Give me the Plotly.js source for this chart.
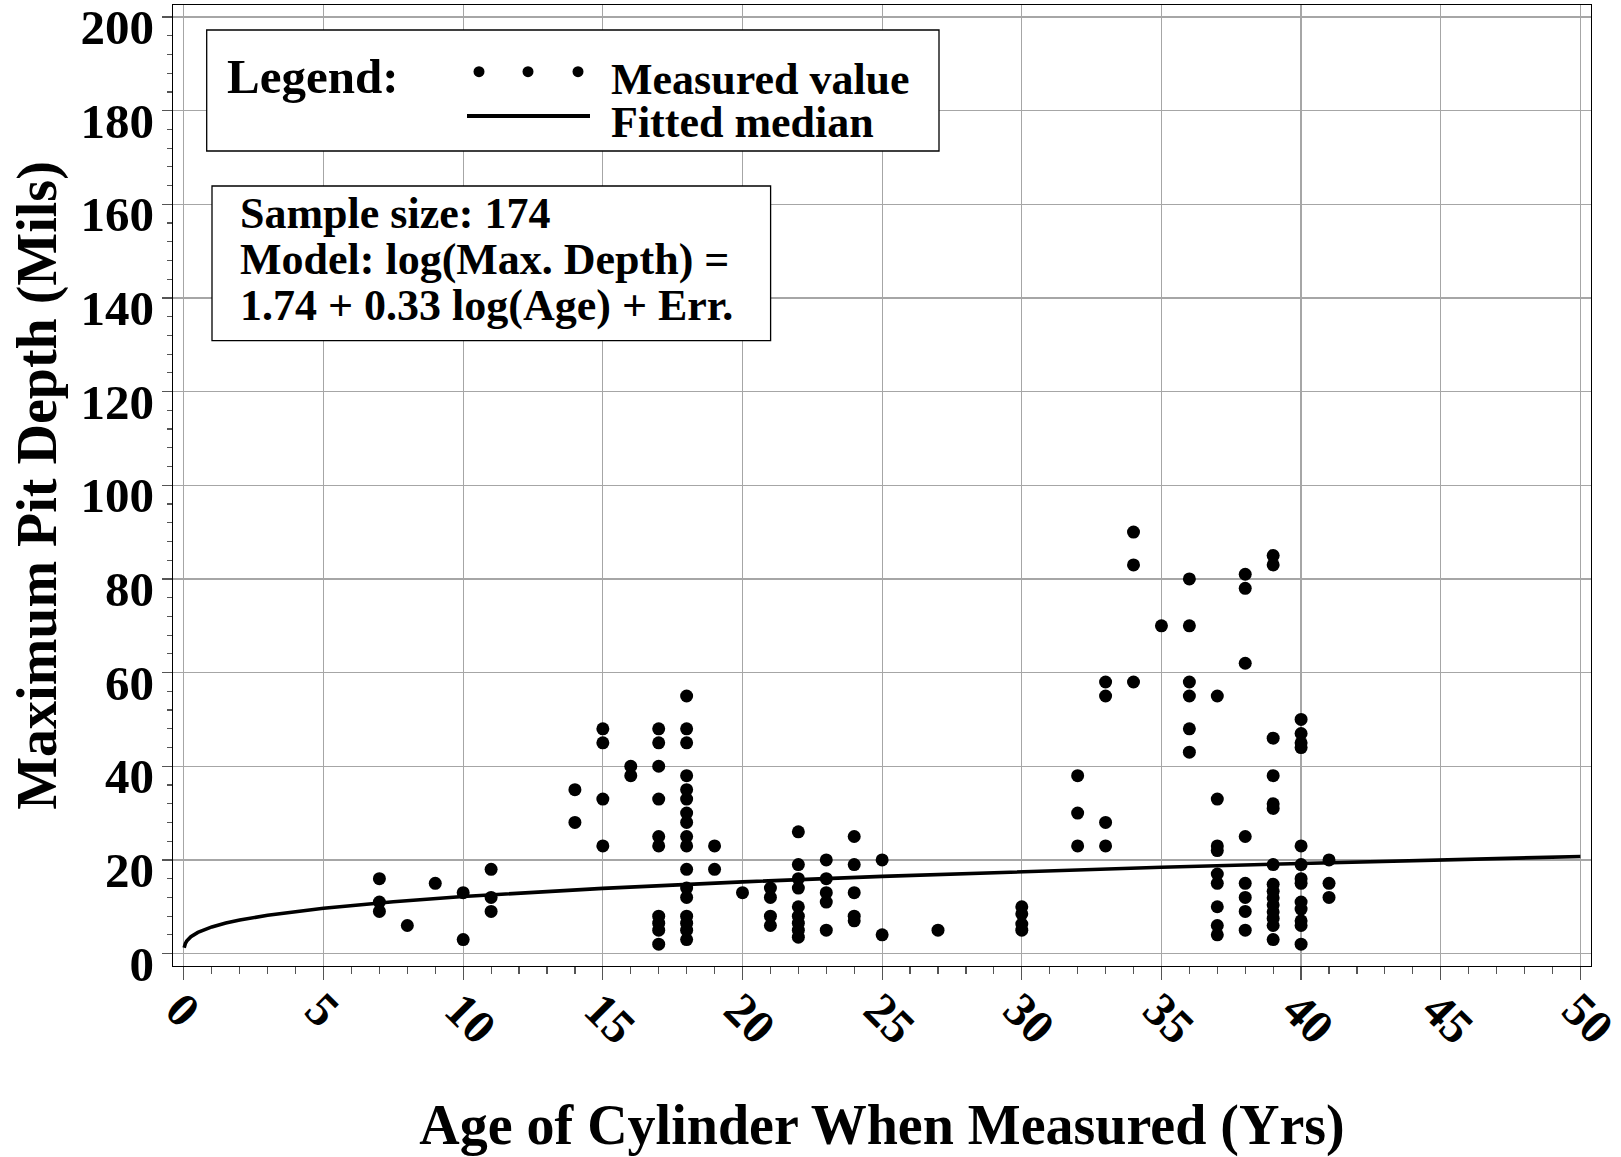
<!DOCTYPE html>
<html>
<head>
<meta charset="utf-8">
<script src="https://cdn.plot.ly/plotly-3.0.1.min.js"></script>
<style>
html,body{margin:0;padding:0;background:#fff;}
#chart{width:1621px;height:1157px;}
</style>
</head>
<body>
<div id="chart"></div>
<script>
// ---- Data ----
const measuredAge = [
  7,7,7, 8, 9, 10,10, 11,11,11, 14,14, 15,15,15,15, 16,16,
  17,17,17,17,17,17,17,17,17,17,
  18,18,18,18,18,18,18,18,18,18,18,18,18,18,18,18,18,
  19,19, 20, 21,21,21,21, 22,22,22,22,22,22,22,22,22,
  23,23,23,23,23, 24,24,24,24,24, 25,25, 27, 30,30,30,30,
  32,32,32, 33,33,33,33, 34,34,34, 35, 36,36,36,36,36,36,
  37,37,37,37,37,37,37,37,37,
  38,38,38,38,38,38,38,38,
  39,39,39,39,39,39,39,39,39,39,39,39,39,39,39,
  40,40,40,40,40,40,40,40,40,40,40,40,40,
  41,41,41
];
const measuredDepth = [
  16,11,9, 6, 15, 13,3, 18,12,9, 35,28, 48,45,33,23, 40,38,
  48,45,40,33,25,23,8,6.5,5,2,
  55,48,45,38,35,33,30,28,25,23,18,14,12,8,6.5,5,3,
  23,18, 13, 14,12,8,6, 26,19,16,14,10,8,6.5,5,3.5,
  20,16,13,11,5, 25,19,13,8,7, 20,4, 5, 10,8.5,6.3,5,
  38,30,23, 58,55,28,23, 90,83,58, 70, 80,70,58,55,48,43,
  55,33,23,22,17,15,10,6,4,
  81,78,62,25,15,12,9,5,
  85,83,46,38,32,31,19,14.8,13.3,11.9,10.4,8.9,7.5,6,3,
  50,47,45,44,23,19,16,15,11,9.5,7,6,2,
  20,15,12
];
const fitAge   = [0.01, 0.02, 0.05, 0.1, 0.15, 0.25, 0.5, 0.75, 1, 1.5, 2, 3, 5, 7.5, 10, 15, 20, 25, 30, 35, 40, 45, 50];
const fitDepth = [1.25, 1.57, 2.12, 2.67, 3.05, 3.61, 4.53, 5.18, 5.70, 6.52, 7.16, 8.19, 9.69, 11.08, 12.19, 13.93, 15.32, 16.49, 17.51, 18.43, 19.25, 20.02, 20.73];

const xTitle = 'Age of Cylinder When Measured (Yrs)';
const yTitle = 'Maximum Pit Depth (Mils)';
const legendLabels = ['Legend:', 'Measured value', 'Fitted median'];
const infoLines = ['Sample size: 174', 'Model: log(Max. Depth) =', '1.74 + 0.33 log(Age) + Err.'];

// ---- Layout geometry (pixels) ----
const W = 1621, H = 1157;
const L = 173, R = 1591, T = 5, B = 966;
const px = v => (v - L) / (R - L);
const py = v => (B - v) / (B - T);
const FONT = 'Liberation Serif, "Times New Roman", Times, serif';

const traces = [
  {
    x: fitAge, y: fitDepth, type: 'scatter', mode: 'lines',
    line: {color: '#000', width: 3.6}, hoverinfo: 'skip', showlegend: false
  },
  {
    x: measuredAge, y: measuredDepth, type: 'scatter', mode: 'markers',
    marker: {color: '#000', size: 13, line: {width: 0}}, hoverinfo: 'skip', showlegend: false
  }
];

function rectPx(x0, y0, x1, y1) {
  return {type: 'rect', xref: 'paper', yref: 'paper', layer: 'above',
    x0: px(x0), x1: px(x1), y0: py(y1), y1: py(y0),
    line: {color: '#000', width: 1.3}, fillcolor: '#fff'};
}
function dotPx(cx, cy, r) {
  return {type: 'circle', xref: 'paper', yref: 'paper', layer: 'above',
    x0: px(cx - r), x1: px(cx + r), y0: py(cy + r), y1: py(cy - r),
    line: {width: 0}, fillcolor: '#000'};
}

const shapes = [
  rectPx(206.7, 30, 939, 151),
  rectPx(212, 186, 770.6, 340.7),
  dotPx(479, 71.7, 5.5), dotPx(528, 71.7, 5.5), dotPx(578, 71.7, 5.5),
  {type: 'line', xref: 'paper', yref: 'paper', layer: 'above',
   x0: px(467), x1: px(590), y0: py(116), y1: py(116), line: {color: '#000', width: 4}}
];

function ann(text, x, y, size) {
  return {text: text, xref: 'paper', yref: 'paper', x: px(x), y: py(y),
    xanchor: 'left', yanchor: 'middle', showarrow: false,
    font: {family: FONT, size: size, color: '#000', weight: 'bold'}};
}
const annotations = [
  ann(legendLabels[0], 225, 77, 49),
  ann(legendLabels[1], 609, 79, 44),
  ann(legendLabels[2], 609, 123, 44),
  ann(infoLines[0], 238, 213.5, 44),
  ann(infoLines[1], 238, 259, 44),
  ann(infoLines[2], 238, 305, 44)
];

const layout = {
  width: W, height: H,
  margin: {l: L, r: W - R, t: T, b: H - B, pad: 0},
  paper_bgcolor: '#fff', plot_bgcolor: '#fff',
  showlegend: false,
  font: {family: FONT, color: '#000'},
  xaxis: {
    range: [-0.39, 50.38], dtick: 5, tick0: 0,
    showgrid: true, gridcolor: '#a6a6a6', gridwidth: 1.2, zeroline: false,
    showline: true, linecolor: '#000', linewidth: 1.2, mirror: true,
    ticks: 'outside', ticklen: 13, tickwidth: 1.2, tickcolor: '#555',
    minor: {dtick: 1, ticks: 'outside', ticklen: 7, tickwidth: 1.2, tickcolor: '#555', showgrid: false},
    tickangle: 45, ticklabelstandoff: -18, ticklabelshift: -4, ticklabeloverflow: 'allow',
    tickfont: {family: FONT, size: 48, color: '#000', weight: 'bold'},
    title: {text: xTitle, font: {family: FONT, size: 56, color: '#000', weight: 'bold'}, standoff: 54},
    automargin: false, fixedrange: true
  },
  yaxis: {
    range: [-2.65, 202.56], dtick: 20, tick0: 0,
    showgrid: true, gridcolor: '#a6a6a6', gridwidth: 1.2, zeroline: false,
    showline: true, linecolor: '#000', linewidth: 1.2, mirror: true,
    ticks: 'outside', ticklen: 10, tickwidth: 1.2, tickcolor: '#555',
    minor: {dtick: 4, ticks: 'outside', ticklen: 5, tickwidth: 1.2, tickcolor: '#555', showgrid: false},
    ticklabelshift: 10, ticklabelstandoff: -2, ticklabeloverflow: 'allow',
    tickfont: {family: FONT, size: 49, color: '#000', weight: 'bold'},
    title: {text: yTitle, font: {family: FONT, size: 56, color: '#000', weight: 'bold'}, standoff: 6},
    automargin: false, fixedrange: true
  },
  shapes: shapes,
  annotations: annotations
};

Plotly.newPlot('chart', traces, layout, {displayModeBar: false, staticPlot: true});
</script>
</body>
</html>
